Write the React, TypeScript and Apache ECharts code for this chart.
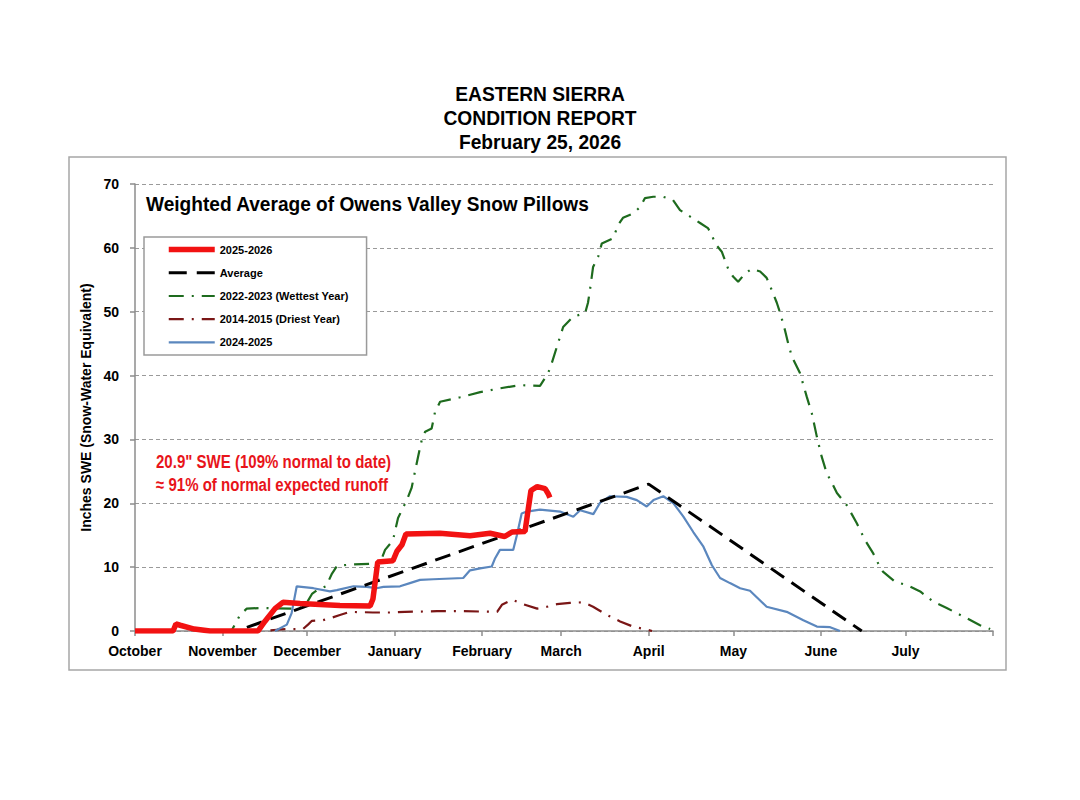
import { useEffect, useRef } from 'react';
import * as echarts from 'echarts';

// x = days since Oct 1 (water year), y = inches SWE
const monthNames = ['October', 'November', 'December', 'January', 'February', 'March', 'April', 'May', 'June', 'July'];
const monthStartDays = [0, 31, 61, 92, 123, 151, 182, 212, 243, 273, 304];

const swe2526: [number, number][] = [
  [0, 0], [13.5, 0], [14.5, 1.1], [16, 0.9], [21, 0.3], [26.6, 0], [43.6, 0],
  [46, 1.5], [49.6, 3.5], [52.4, 4.5], [58.5, 4.3], [72.6, 4.0], [83.3, 3.9],
  [84.3, 5], [86, 10.8], [91.4, 11], [92.8, 12.5], [94.6, 13.5], [96, 15.2],
  [108, 15.3], [118.7, 14.9], [125.8, 15.3], [131, 14.8], [133.6, 15.5],
  [138.2, 15.6], [139.3, 19], [140.3, 22], [142.5, 22.6], [145.3, 22.3],
  [146.4, 21.5], [147, 20.9],
];

const sweAverage: [number, number][] = [
  [31, 0], [36, 0], [182, 23], [257.5, 0],
];

const swe2223: [number, number][] = [
  [30.8, 0], [34.4, 0.2], [37.2, 2.5], [39.6, 3.5], [44.3, 3.6], [55.5, 3.5],
  [58.5, 3.6], [60.6, 4.2], [62.7, 5.8], [64.5, 6.4], [67.7, 7], [69.8, 9],
  [71.6, 10.2], [76.2, 10.4], [86.8, 10.6], [88.6, 12.7], [91.4, 14.2],
  [93.2, 17.7], [96.3, 20.5], [98, 22.4], [100.3, 27.3], [101.6, 29.9],
  [102.8, 31.2], [105.1, 31.7], [106.3, 34.3], [108.1, 35.9], [115.2, 36.6],
  [122.3, 37.4], [129.3, 38], [136.4, 38.5], [143.5, 38.4], [146.4, 40.4],
  [147.7, 42], [149.9, 45.1], [151.7, 47.6], [155.2, 49.2], [159.5, 49.8],
  [160.5, 51.4], [161.2, 53.4], [162.3, 57], [164.1, 58.6], [165.4, 60.7],
  [169.4, 61.5], [171.2, 63.6], [172.9, 64.7], [176.5, 65.4], [179, 66.4],
  [180.7, 67.8], [183.6, 68], [187.1, 68], [190.6, 67.5], [193.1, 65.9],
  [196.7, 64.9], [200.2, 63.9], [203, 63.1], [204.4, 62], [205.5, 60.7],
  [207.9, 59.4], [210.1, 56.8], [211.9, 55.5], [213.7, 54.7], [216.2, 56],
  [218.5, 56.7], [221.5, 56.3], [223.8, 55.3], [225.6, 53.4], [227.4, 51.4],
  [228.6, 49.8], [230.3, 47.1], [231.4, 45.1], [232.7, 43], [235.6, 40.4],
  [238, 36.7], [239.8, 34.1], [241.6, 30.4], [243.3, 27.3], [245.1, 24.7],
  [246.9, 23.2], [248.7, 21.6], [252.2, 19.7], [255.7, 16.9], [258.7, 14.2],
  [261.5, 12.2], [263.3, 10.6], [265, 9.3], [269.3, 7.7], [273.5, 7.2],
  [278.2, 6.2], [282.8, 4.6], [287.6, 3.6], [294.7, 2.0], [299.4, 0.9],
  [303, 0.3],
];

const swe1415: [number, number][] = [
  [48, 0.1], [50.3, 0.2], [53.9, 0.3], [59.5, 0.3], [61.3, 1], [62.7, 1.6],
  [66.6, 1.7], [69.1, 2.0], [72.6, 2.5], [76.2, 3.0], [84.3, 2.9], [90.4, 2.9],
  [95.7, 3.0], [107, 3.1], [116.2, 3.1], [128.3, 3.0], [130, 4.1], [133.6, 4.9],
  [137.5, 4.2], [142.5, 3.5], [146, 3.8], [149.5, 4.2], [154.1, 4.4],
  [158.8, 4.5], [162.3, 3.8], [167.3, 2.5], [171.9, 1.5], [176.4, 0.7],
  [181.4, 0.2], [183.2, 0],
];

const swe2425: [number, number][] = [
  [49.6, 0], [53.8, 1.0], [55.5, 2.8], [57.3, 7.0], [63.2, 6.7], [69.1, 6.2],
  [71.5, 6.4], [77.4, 7.0], [82.1, 6.9], [85.6, 6.7], [88, 6.9], [93.9, 7.0],
  [97.4, 7.5], [101, 8.0], [105.7, 8.1], [116.3, 8.3], [118.7, 9.5],
  [122.3, 9.8], [126.4, 10.1], [127.6, 11.4], [129.3, 12.7], [134, 12.7],
  [135.3, 15], [137, 18.4], [138.8, 18.7], [143.5, 19.0], [150.6, 18.7],
  [155.3, 17.9], [157.7, 18.9], [162.4, 18.3], [164.8, 20.1], [168.3, 21.1],
  [174.2, 21.0], [177.8, 20.5], [181.3, 19.5], [183.7, 20.5], [187.2, 21.1],
  [190.8, 20], [194.3, 17.9], [197.8, 15.5], [201.4, 13.2], [204.4, 10.3],
  [207.3, 8.3], [210.8, 7.5], [214.4, 6.7], [217.9, 6.3], [223.8, 3.8],
  [230.9, 3.0], [236.8, 1.7], [241.6, 0.7], [246.3, 0.6], [249.8, 0],
];

const FONT = "'Liberation Sans', Arial, sans-serif";

// line looks
const RED = '#f21212';
const GREEN = '#1e6b1e';
const MAROON = '#7a1616';
const BLUE = '#5b87be';
const dashDot = [15, 8, 2, 8];
const dashed = [16, 9];

export default function App() {
  const ref = useRef<HTMLDivElement | null>(null);

  useEffect(() => {
    if (!ref.current) return;
    const chart = echarts.init(ref.current, null, { renderer: 'svg' });

    chart.setOption({
      animation: false,
      backgroundColor: '#fff',
      graphic: [
        {
          type: 'rect',
          shape: { x: 69, y: 157, width: 937, height: 513 },
          style: { fill: 'none', stroke: '#a6a6a6', lineWidth: 1.5 },
          z: -1,
        },
        {
          type: 'text',
          x: 540,
          y: 118,
          style: {
            text: 'EASTERN SIERRA\nCONDITION REPORT\nFebruary 25, 2026',
            font: `bold 20px ${FONT}`,
            fill: '#000',
            align: 'center',
            verticalAlign: 'middle',
            lineHeight: 24,
          },
          scaleX: 0.96,
        },
        {
          type: 'text',
          x: 146,
          y: 204,
          style: {
            text: 'Weighted Average of Owens Valley Snow Pillows',
            font: `bold 20px ${FONT}`,
            fill: '#000',
            verticalAlign: 'middle',
          },
          scaleX: 0.955,
        },
        {
          type: 'text',
          x: 156,
          y: 462,
          style: {
            text: '20.9" SWE (109% normal to date)',
            font: `bold 18px ${FONT}`,
            fill: '#e8141a',
            verticalAlign: 'middle',
          },
          scaleX: 0.835,
        },
        {
          type: 'text',
          x: 156,
          y: 485,
          style: {
            text: '≈ 91% of normal expected runoff',
            font: `bold 18px ${FONT}`,
            fill: '#e8141a',
            verticalAlign: 'middle',
          },
          scaleX: 0.835,
        },
      ],
      legend: {
        orient: 'vertical',
        left: 144,
        top: 237,
        padding: [7, 18, 7, 22],
        itemWidth: 46,
        itemHeight: 14,
        itemGap: 12,
        backgroundColor: '#fff',
        borderColor: '#9a9a9a',
        borderWidth: 1.5,
        itemStyle: { opacity: 0 },
        textStyle: { fontFamily: FONT, fontWeight: 'bold', fontSize: 11, color: '#000' },
        data: [
          { name: '2025-2026', lineStyle: { width: 5.5, color: RED, type: 'solid' } },
          { name: 'Average', lineStyle: { width: 3, color: '#000', type: [18, 10] } },
          { name: '2022-2023 (Wettest Year)', lineStyle: { width: 2.2, color: GREEN, type: dashDot } },
          { name: '2014-2015 (Driest Year)', lineStyle: { width: 2.2, color: MAROON, type: dashDot } },
          { name: '2024-2025', lineStyle: { width: 2.2, color: BLUE, type: 'solid' } },
        ],
      },
      grid: { left: 135, right: 87, top: 184, bottom: 169 },
      xAxis: {
        type: 'value',
        min: 0,
        max: 304,
        axisLine: { lineStyle: { color: '#8c8c8c', width: 1.5 } },
        axisTick: {
          show: true,
          length: 5,
          customValues: monthStartDays,
          lineStyle: { color: '#8c8c8c', width: 1.5 },
        },
        axisLabel: {
          customValues: monthStartDays.slice(0, monthNames.length),
          formatter: (v: number) => monthNames[monthStartDays.indexOf(v)] ?? '',
          fontFamily: FONT,
          fontWeight: 'bold',
          fontSize: 14,
          color: '#000',
          margin: 13,
        },
        splitLine: { show: false },
      },
      yAxis: {
        type: 'value',
        min: 0,
        max: 70,
        interval: 10,
        name: 'Inches SWE (Snow-Water Equivalent)',
        nameLocation: 'middle',
        nameRotate: 90,
        nameGap: 42,
        nameTextStyle: { fontFamily: FONT, fontWeight: 'bold', fontSize: 14, color: '#000' },
        axisLine: { show: true, lineStyle: { color: '#8c8c8c', width: 1.5 } },
        axisTick: { show: true, length: 5, lineStyle: { color: '#8c8c8c', width: 1.5 } },
        axisLabel: {
          fontFamily: FONT,
          fontWeight: 'bold',
          fontSize: 14,
          color: '#000',
          margin: 16,
        },
        splitLine: { lineStyle: { color: '#9a9a9a', type: [4, 3], width: 1 } },
      },
      series: [
        {
          name: '2025-2026',
          type: 'line',
          data: swe2526,
          symbol: 'none',
          z: 10,
          color: RED,
          lineStyle: { color: RED, width: 5.5 },
        },
        {
          name: 'Average',
          type: 'line',
          data: sweAverage,
          symbol: 'none',
          z: 8,
          color: '#000',
          lineStyle: { color: '#000', width: 3, type: dashed },
        },
        {
          name: '2022-2023 (Wettest Year)',
          type: 'line',
          data: swe2223,
          symbol: 'none',
          z: 6,
          color: GREEN,
          lineStyle: { color: GREEN, width: 2.2, type: dashDot },
        },
        {
          name: '2014-2015 (Driest Year)',
          type: 'line',
          data: swe1415,
          symbol: 'none',
          z: 5,
          color: MAROON,
          lineStyle: { color: MAROON, width: 2.2, type: dashDot },
        },
        {
          name: '2024-2025',
          type: 'line',
          data: swe2425,
          symbol: 'none',
          z: 7,
          color: BLUE,
          lineStyle: { color: BLUE, width: 2.2 },
        },
      ],
    });

    return () => chart.dispose();
  }, []);

  return (
    <div
      ref={ref}
      style={{ position: 'fixed', left: 0, top: 0, width: 1080, height: 800, background: '#fff' }}
    />
  );
}
